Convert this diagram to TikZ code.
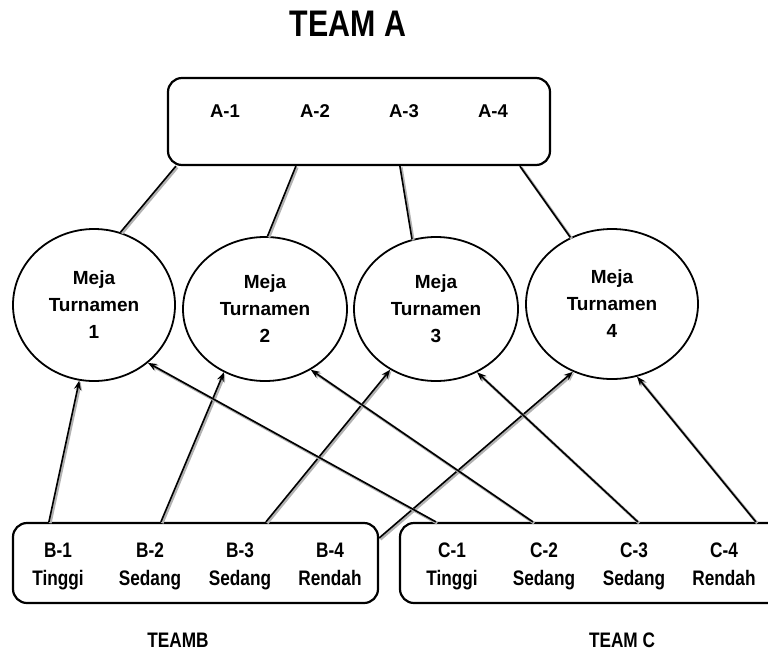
\documentclass[tikz,border=0pt]{standalone}
\usepackage{fontspec}
\setmainfont{Liberation Sans}
\newfontfamily\narrowfont{Liberation Sans}[FakeStretch=0.82]
\usetikzlibrary{arrows.meta,shapes.geometric}
\tikzset{>={Stealth[length=9pt,width=7pt]}}
\tikzset{
  panel/.style={draw, rounded corners=14pt, line width=2.2pt, inner sep=0pt},
  meja/.style={draw, ellipse, line width=1.8pt, inner sep=0pt, align=center,
    font=\bfseries\fontsize{19}{27}\selectfont},
  alabel/.style={font=\bfseries\fontsize{18.5}{22}\selectfont},
  pemain/.style={align=center, font=\narrowfont\bfseries\fontsize{21}{28}\selectfont},
  teamlabel/.style={font=\narrowfont\bfseries\fontsize{21}{24}\selectfont},
  link/.style={line width=1.6pt,
    preaction={draw=black!30, line width=2.8pt, transform canvas={xshift=1.3pt,yshift=-1.3pt}}},
}

\begin{document}
\begin{tikzpicture}[x=1pt, y=-1pt]
  \useasboundingbox (0,0) rectangle (768,651);

  % title
  \node[font=\narrowfont\bfseries\fontsize{37}{40}\selectfont] (title) at (348,24) {TEAM A};

  % team A box
  \node[panel, minimum width=382pt, minimum height=87pt] (topbox) at (359,121.5) {};
  \foreach \i/\x in {1/225,2/315,3/404,4/493}
    \node[alabel] (a\i) at (\x,111) {A-\i};

  % tournament tables
  \foreach \i/\x/\y/\w/\h in {1/94/305/162/152, 2/265/309/164/144, 3/436/309/164/144, 4/612/304/172/150}
    \node[meja, minimum width=\w pt, minimum height=\h pt] (meja\i) at (\x,\y) {Meja\\Turnamen\\\i};

  % team B and team C boxes
  \node[panel, minimum width=365pt, minimum height=80pt] (boxb) at (195.5,563) {};
  \node[panel, minimum width=390pt, minimum height=80pt] (boxc) at (595,563) {};
  \foreach \i/\x/\lvl in {1/58/Tinggi,2/150/Sedang,3/240/Sedang,4/330/Rendah}
    \node[pemain] (b\i) at (\x,566) {B-\i\\\lvl\vphantom{g}};
  \foreach \i/\x/\lvl in {1/452/Tinggi,2/544/Sedang,3/634/Sedang,4/724/Rendah}
    \node[pemain] (c\i) at (\x,566) {C-\i\\\lvl\vphantom{g}};

  \node[teamlabel] (teamb) at (178,640) {TEAMB};
  \node[teamlabel] (teamc) at (622,640) {TEAM C};

  % team A to tables
  \draw[link] ([xshift=9pt]topbox.south west) -- (meja1.70);
  \draw[link] ([xshift=129pt]topbox.south west) -- (meja2.88);
  \draw[link] ([xshift=233pt]topbox.south west) -- (meja3.109);
  \draw[link] ([xshift=353pt]topbox.south west) -- (meja4.122);

  % team B to tables
  \draw[link,->] ([xshift=37pt]boxb.north west) -- (meja1.259);
  \draw[link,->] ([xshift=149pt]boxb.north west) -- (meja2.237);
  \draw[link,->] ([xshift=254pt]boxb.north west) -- (meja3.233);
  \draw[link,->] ([yshift=25pt]boxb.east) -- (meja4.240);

  % team C to tables
  \draw[link,->] ([xshift=37pt]boxc.north west) -- (meja1.313);
  \draw[link,->] ([xshift=134pt]boxc.north west) -- (meja2.307);
  \draw[link,->] ([xshift=239pt]boxc.north west) -- (meja3.303);
  \draw[link,->] ([xshift=357pt]boxc.north west) -- (meja4.289);
\end{tikzpicture}
\end{document}
